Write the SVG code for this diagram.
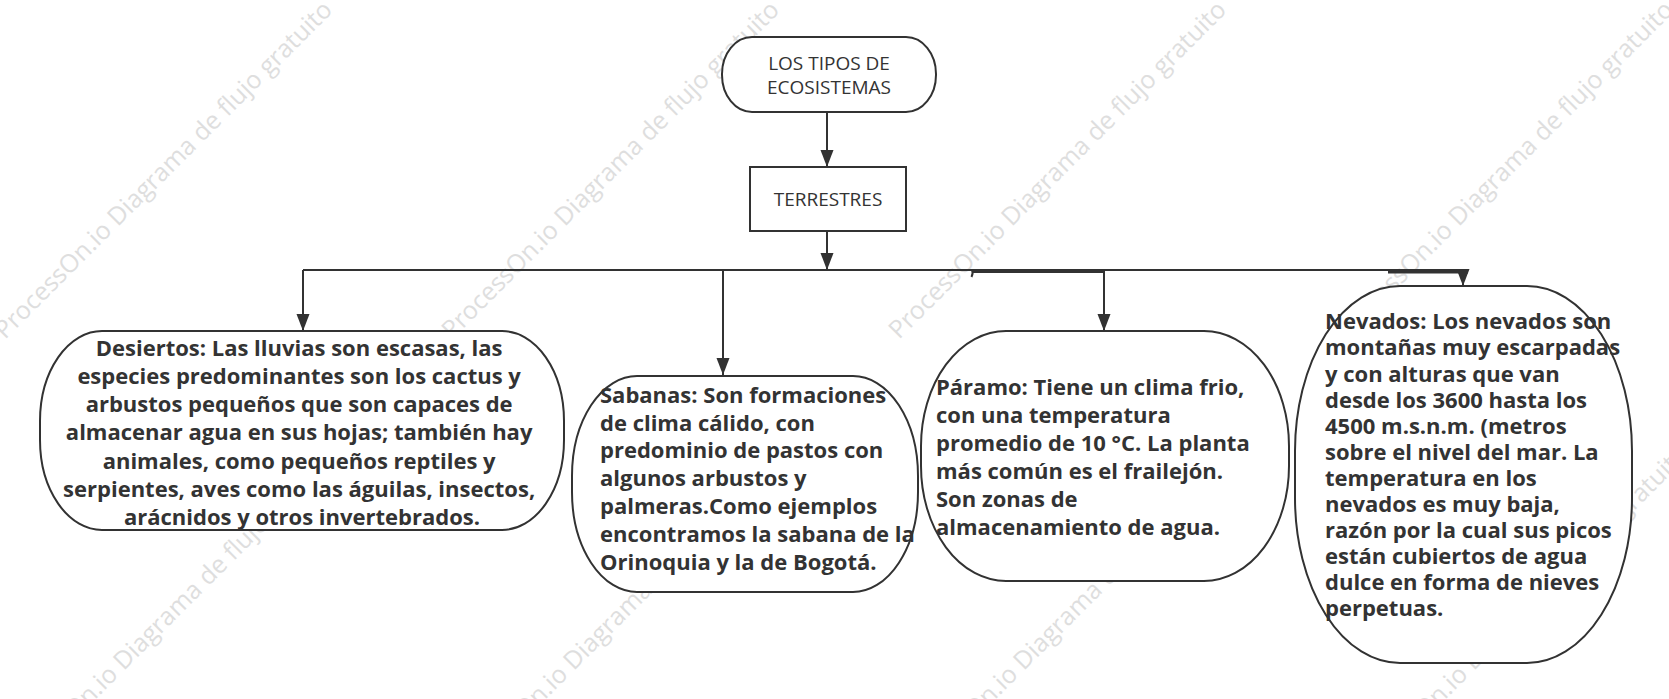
<svg xmlns="http://www.w3.org/2000/svg" width="1669" height="699" viewBox="0 0 1669 699">
<defs>
<style>
.wm{font-family:"Open Sans","Noto Sans",sans-serif;font-size:25px;fill:#dedede}
.node{fill:#ffffff;stroke:#323232;stroke-width:2}
.t{font-family:"Open Sans","Noto Sans",sans-serif;font-size:19px;fill:#333333}
.b{font-family:"Open Sans","Noto Sans",sans-serif;font-size:22px;font-weight:bold;fill:#333333}
.c{fill:none;stroke:#323232;stroke-width:2}
</style>
<marker id="ah" markerUnits="userSpaceOnUse" markerWidth="18" markerHeight="14" refX="17" refY="6.5" orient="auto">
<path d="M0,0 L17,6.5 L0,13 z" fill="#323232"/>
</marker>
</defs>
<rect width="1669" height="699" fill="#ffffff"/>
<g id="watermark">
<text class="wm" transform="translate(5,340) rotate(-45)">ProcessOn.io Diagrama de flujo gratuito</text>
<text class="wm" transform="translate(452,340) rotate(-45)">ProcessOn.io Diagrama de flujo gratuito</text>
<text class="wm" transform="translate(899,340) rotate(-45)">ProcessOn.io Diagrama de flujo gratuito</text>
<text class="wm" transform="translate(1346,340) rotate(-45)">ProcessOn.io Diagrama de flujo gratuito</text>
<text class="wm" transform="translate(11,784) rotate(-45)">ProcessOn.io Diagrama de flujo gratuito</text>
<text class="wm" transform="translate(461,784) rotate(-45)">ProcessOn.io Diagrama de flujo gratuito</text>
<text class="wm" transform="translate(911,784) rotate(-45)">ProcessOn.io Diagrama de flujo gratuito</text>
<text class="wm" transform="translate(1361,784) rotate(-45)">ProcessOn.io Diagrama de flujo gratuito</text>
</g>
<g id="connectors">
<path class="c" d="M827,112 V167" marker-end="url(#ah)"/>
<path class="c" d="M827,231 V270" marker-end="url(#ah)"/>
<path class="c" d="M303,270 H1463"/>
<path class="c" d="M303,270 V331" marker-end="url(#ah)"/>
<path class="c" d="M723,270 V375" marker-end="url(#ah)"/>
<path class="c" d="M1104,270 V331" marker-end="url(#ah)"/>
<path class="c" d="M1463,270 V286" marker-end="url(#ah)"/>
<path class="c" d="M972,272 H1105"/>
<path class="c" d="M972,270 q1.5,3 -0.5,7"/>
<path class="c" d="M1388,272 H1468" style="stroke-width:3"/>
</g>
<g id="n-top">
<rect class="node" x="722" y="37" width="214" height="75" rx="30" ry="37"/>
<text class="t" x="829" y="70" text-anchor="middle">LOS TIPOS DE</text>
<text class="t" x="829" y="94" text-anchor="middle">ECOSISTEMAS</text>
</g>
<g id="n-terrestres">
<rect class="node" x="750" y="167" width="156" height="64"/>
<text class="t" x="828" y="206" text-anchor="middle">TERRESTRES</text>
</g>
<g id="n-desiertos">
<rect class="node" x="40" y="331" width="524" height="199" rx="62" ry="90"/>
<text class="b" text-anchor="middle">
<tspan x="302" y="355.5">Desiertos: Las lluvias son escasas, las</tspan>
<tspan x="302" y="383.8">especies predominantes son los cactus y</tspan>
<tspan x="302" y="412.1">arbustos pequeños que son capaces de</tspan>
<tspan x="302" y="440.4">almacenar agua en sus hojas; también hay</tspan>
<tspan x="302" y="468.7">animales, como pequeños reptiles y</tspan>
<tspan x="302" y="497">serpientes, aves como las águilas, insectos,</tspan>
<tspan x="302" y="525.3">arácnidos y otros invertebrados.</tspan>
</text>
</g>
<g id="n-sabanas">
<rect class="node" x="572" y="376" width="346" height="216" rx="65" ry="100"/>
<text class="b">
<tspan x="600" y="402.7">Sabanas: Son formaciones</tspan>
<tspan x="600" y="430.5">de clima cálido, con</tspan>
<tspan x="600" y="458.3">predominio de pastos con</tspan>
<tspan x="600" y="486.1">algunos arbustos y</tspan>
<tspan x="600" y="513.9">palmeras.Como ejemplos</tspan>
<tspan x="600" y="541.7">encontramos la sabana de la</tspan>
<tspan x="600" y="569.5">Orinoquia y la de Bogotá.</tspan>
</text>
</g>
<g id="n-paramo">
<rect class="node" x="921" y="331" width="368" height="250" rx="85" ry="115"/>
<text class="b">
<tspan x="936" y="395">Páramo: Tiene un clima frio,</tspan>
<tspan x="936" y="423">con una temperatura</tspan>
<tspan x="936" y="451">promedio de 10 °C. La planta</tspan>
<tspan x="936" y="479">más común es el frailejón.</tspan>
<tspan x="936" y="507">Son zonas de</tspan>
<tspan x="936" y="535">almacenamiento de agua.</tspan>
</text>
</g>
<g id="n-nevados">
<rect class="node" x="1295" y="286" width="337" height="377" rx="105" ry="165"/>
<text class="b">
<tspan x="1325" y="329.3">Nevados: Los nevados son</tspan>
<tspan x="1325" y="355.4">montañas muy escarpadas</tspan>
<tspan x="1325" y="381.5">y con alturas que van</tspan>
<tspan x="1325" y="407.6">desde los 3600 hasta los</tspan>
<tspan x="1325" y="433.7">4500 m.s.n.m. (metros</tspan>
<tspan x="1325" y="459.8">sobre el nivel del mar. La</tspan>
<tspan x="1325" y="485.9">temperatura en los</tspan>
<tspan x="1325" y="512">nevados es muy baja,</tspan>
<tspan x="1325" y="538.1">razón por la cual sus picos</tspan>
<tspan x="1325" y="564.2">están cubiertos de agua</tspan>
<tspan x="1325" y="590.3">dulce en forma de nieves</tspan>
<tspan x="1325" y="616.4">perpetuas.</tspan>
</text>
</g>
</svg>
